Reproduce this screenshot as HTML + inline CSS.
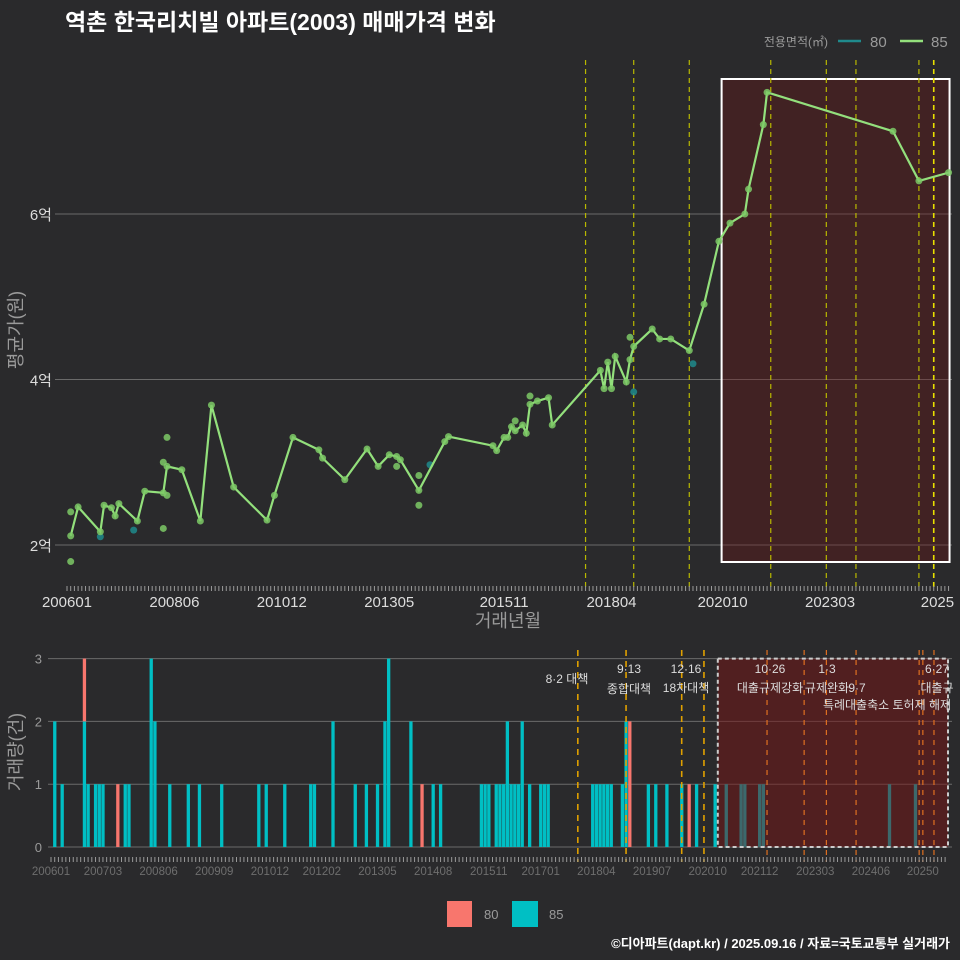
<!DOCTYPE html>
<html><head><meta charset="utf-8">
<style>
html,body{margin:0;padding:0;background:#2a2a2c;}
svg{display:block;font-family:"Liberation Sans","Noto Sans CJK KR",sans-serif;}
</style></head>
<body>
<svg id="c" width="960" height="960" viewBox="0 0 960 960">
<rect x="0" y="0" width="960" height="960" fill="#2a2a2c"/>
<text x="65" y="30" fill="#ffffff" font-size="23" font-weight="bold">역촌 한국리치빌 아파트(2003) 매매가격 변화</text>
</svg>
<script>
// ---- data (month index from 2006-01) ----
const lineMonths=[1,3,9,10,12,13,14,19,21,26,27,31,36,39,45,54,56,61,68,69,75,81,84,87,89,90,95,102,103,115,116,118,119,120,121,123,124,125,127,130,131,144,145,146,147,148,151,152,153,158,160,163,168,172,176,179,183,184,188,189,223,230,238];
const lineValues=[2.11,2.46,2.16,2.48,2.45,2.35,2.50,2.29,2.65,2.63,2.95,2.91,2.29,3.69,2.70,2.30,2.60,3.30,3.15,3.05,2.79,3.16,2.95,3.09,3.07,3.03,2.66,3.25,3.31,3.20,3.14,3.30,3.30,3.43,3.38,3.45,3.35,3.70,3.74,3.78,3.45,4.11,3.89,4.21,3.89,4.28,3.97,4.24,4.40,4.61,4.49,4.49,4.35,4.91,5.67,5.89,6.00,6.30,7.08,7.47,7.00,6.40,6.50];
const extra85Months=[1,1,26,27,26,27,89,95,95,121,125,152];
const extra85Values=[2.40,1.80,3.00,3.30,2.20,2.60,2.95,2.84,2.48,3.50,3.80,4.51];
const pts80Months=[9,18,98,153,169];
const pts80Values=[2.10,2.18,2.97,3.85,4.19];
const yTicks=[2,4,6];
const yTickLabels=["2억","4억","6억"];
const xTickMonths=[0,29,58,87,118,147,177,206,235];
const xTickLabels=["200601","200806","201012","201305","201511","201804","202010","202303","2025"];
const policyMonthsTop=[140,153,168,190,205,213,230,234];
// volume bars
const bar85Months=[1,3,9,10,12,13,14,20,21,27,28,32,37,40,46,56,58,63,70,71,76,82,85,88,90,91,97,103,105,116,117,118,120,121,122,123,124,125,126,127,129,132,133,134,146,147,148,149,150,151,154,155,161,163,166,170,174,179,182,186,187,191,192,226,233];
const bar85Counts=[2,1,2,1,1,1,1,1,1,3,2,1,1,1,1,1,1,1,1,1,2,1,1,1,2,3,2,1,1,1,1,1,1,1,1,2,1,1,1,2,1,1,1,1,1,1,1,1,1,1,1,2,1,1,1,1,1,1,1,1,1,1,1,1,1];
const bar80Months=[9,18,100,156,172];
const bar80Counts=[1,1,1,2,1];
const volTicks=[0,1,2,3];
const volXTickMonths=[0,14,29,44,59,73,88,103,118,132,147,162,177,191,206,221,235];
const volXTickLabels=["200601","200703","200806","200909","201012","201202","201305","201408","201511","201701","201804","201907","202010","202112","202303","202406","20250"];
const policyYellowMonths=[142,155,170,176];
const policyOrangeMonths=[193,203,209,217,234,235,238];

const svg=document.getElementById('c');
const NS='http://www.w3.org/2000/svg';
function mk(tag,attrs,parent){const e=document.createElementNS(NS,tag);for(const k in attrs)e.setAttribute(k,attrs[k]);(parent||svg).appendChild(e);return e;}
const xT=m=>67+m*3.704;
const yT=v=>545-(v-2)*82.75;
const xB=m=>51+m*3.71;
const yB=c=>847-c*62.8;

// --- top panel ---
const gTop=mk('g',{});


yTicks.forEach((v,i)=>{
  const l=mk('line',{x1:55,x2:952,y1:yT(v),y2:yT(v),stroke:'#6a6a6a','stroke-width':1},gTop);
  
  
  const t=mk('text',{x:52,y:yT(v)+6,'text-anchor':'end',fill:'#dddddd','font-size':15},gTop);
  t.textContent=yTickLabels[i];
  
  
});
const hb=mk('rect',{x:xT(177)-1,y:79,width:xT(238)-xT(177)+2,height:483,fill:'rgba(110,20,20,0.35)',stroke:'#ffffff','stroke-width':2},gTop);


policyMonthsTop.forEach((m,i)=>{
  const l=mk('line',{x1:xT(m),x2:xT(m),y1:60,y2:590,stroke:i==7?'#e8e000':'#b8b800','stroke-width':i==7?1.6:1.2,'stroke-dasharray':'5,4'},gTop);
  
  
});
for(let m=0;m<=238;m++){mk('line',{x1:xT(m),x2:xT(m),y1:586,y2:591,stroke:'#9a9a9a','stroke-width':1},gTop);}
xTickMonths.forEach((m,i)=>{
  const t=mk('text',{x:xT(m),y:607,'text-anchor':'middle',fill:'#dddddd','font-size':15},gTop);
  t.textContent=xTickLabels[i];
  
  
});
pts80Months.forEach((m,i)=>{const c=mk('circle',{cx:xT(m),cy:yT(pts80Values[i]),r:3.5,fill:'#1f8a8c',opacity:0.85},gTop);
  });
extra85Months.forEach((m,i)=>{const c=mk('circle',{cx:xT(m),cy:yT(extra85Values[i]),r:3.5,fill:'#7cc966',opacity:0.85},gTop);
  });
const pl=mk('polyline',{points:lineMonths.map((m,i)=>xT(m)+','+yT(lineValues[i])).join(' '),fill:'none',stroke:'#93e07c','stroke-width':2.2},gTop);


lineMonths.forEach((m,i)=>{const c=mk('circle',{cx:xT(m),cy:yT(lineValues[i]),r:3.5,fill:'#7cc966',opacity:0.85},gTop);
  });
let t;
t=mk('text',{x:508,y:627,'text-anchor':'middle',fill:'#9a9a9a','font-size':18});t.textContent='거래년월';

t=mk('text',{x:22,y:330,'text-anchor':'middle',fill:'#9a9a9a','font-size':18,transform:'rotate(-90 22 330)'});t.textContent='평균가(원)';

t=mk('text',{x:828,y:46,'text-anchor':'end',fill:'#9a9a9a','font-size':12});t.textContent='전용면적(㎡)';

let l=mk('line',{x1:838,x2:861,y1:41,y2:41,stroke:'#1f8a8c','stroke-width':2.5});
t=mk('text',{x:870,y:47,fill:'#9a9a9a','font-size':15});t.textContent='80';
l=mk('line',{x1:900,x2:923,y1:41,y2:41,stroke:'#93e07c','stroke-width':2.5});
t=mk('text',{x:931,y:47,fill:'#9a9a9a','font-size':15});t.textContent='85';

// --- bottom panel ---
const gB=mk('g',{});


volTicks.forEach(v=>{
  const l=mk('line',{x1:48,x2:952,y1:yB(v),y2:yB(v),stroke:'#6a6a6a','stroke-width':1},gB);
  
  const t=mk('text',{x:42,y:yB(v)+5,'text-anchor':'end',fill:'#9a9a9a','font-size':13},gB);
  t.textContent=v;
});
bar85Months.forEach((m,i)=>{const r=mk('rect',{x:xB(m)-1.6,y:yB(bar85Counts[i]),width:3.3,height:bar85Counts[i]*62.8,fill:'#00bfc4'},gB);
  });
bar80Months.forEach((m,i)=>{
  const base=bar85Months.indexOf(m)>=0?bar85Counts[bar85Months.indexOf(m)]:0;
  const r=mk('rect',{x:xB(m)-1.6,y:yB(base+bar80Counts[i]),width:3.3,height:bar80Counts[i]*62.8,fill:'#f8766d'},gB);
  });
const bb=mk('rect',{x:xB(180)-1,y:yB(3),width:948-xB(180)+1,height:yB(0)-yB(3),fill:'rgba(120,20,20,0.5)',stroke:'#cccccc','stroke-width':2,'stroke-dasharray':'4,3'},gB);

policyYellowMonths.forEach(m=>{const l=mk('line',{x1:xB(m),x2:xB(m),y1:650,y2:862,stroke:'#e0a000','stroke-width':1.6,'stroke-dasharray':'6,5'},gB);
  });
policyOrangeMonths.forEach(m=>{const l=mk('line',{x1:xB(m),x2:xB(m),y1:650,y2:862,stroke:'#e07020','stroke-width':1.2,'stroke-dasharray':'5,5'},gB);
  });
for(let m=0;m<=241;m++){mk('line',{x1:xB(m),x2:xB(m),y1:857,y2:862,stroke:'#9a9a9a','stroke-width':1},gB);}
volXTickMonths.forEach((m,i)=>{const t=mk('text',{x:xB(m),y:875,'text-anchor':'middle',fill:'#6e6e6e','font-size':11.5},gB);
  t.textContent=volXTickLabels[i];});
const notes=[[567,683,'8·2 대책'],[629,673,'9·13'],[629,693,'종합대책'],[686,673,'12·16'],[686,692,'18차대책'],[770,673,'10·26'],[770,692,'대출규제강화'],[827,673,'1·3'],[827,692,'규제완화'],[857,692,'9·7'],[887,709,'특례대출축소 토허제 해제'],[937,673,'6·27'],[937,692,'대출규']];
notes.forEach(n=>{const t=mk('text',{x:n[0],y:n[1],'text-anchor':'middle',fill:'#dddddd','font-size':12},gB);
  t.textContent=n[2];});
t=mk('text',{x:22,y:752,'text-anchor':'middle',fill:'#9a9a9a','font-size':18,transform:'rotate(-90 22 752)'});t.textContent='거래량(건)';

let r=mk('rect',{x:447,y:901,width:25,height:26,fill:'#f8766d'});
t=mk('text',{x:484,y:919,fill:'#9a9a9a','font-size':13});t.textContent='80';
r=mk('rect',{x:512,y:901,width:26,height:26,fill:'#00bfc4'});
t=mk('text',{x:549,y:919,fill:'#9a9a9a','font-size':13});t.textContent='85';
t=mk('text',{x:950,y:948,'text-anchor':'end',fill:'#ffffff','font-size':13,'font-weight':'bold'});t.textContent='©디아파트(dapt.kr) / 2025.09.16 / 자료=국토교통부 실거래가';

</script>
</body></html>
